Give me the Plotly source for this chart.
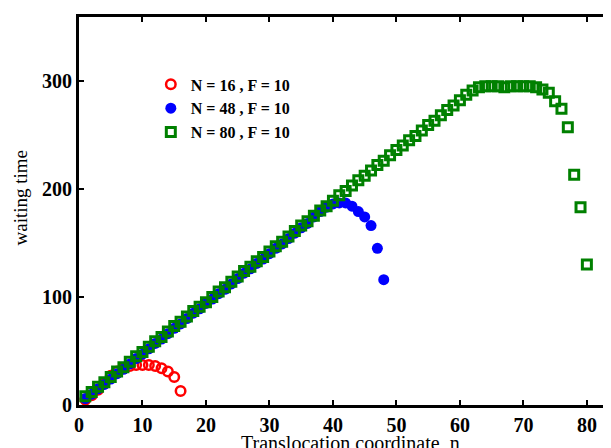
import plotly.graph_objects as go

n16 = list(range(1, 17))
t16 = [5, 9, 14, 20, 27, 31, 34, 36, 37, 37, 37, 36, 34, 31, 26, 13]

n48 = list(range(1, 49))
t48 = [6, 10, 15, 19, 24, 29, 33, 38, 43, 47,
       52, 57, 61, 66, 71, 75, 80, 85, 89, 94,
       98, 103, 107, 112, 117, 122, 126, 131, 135, 140,
       145, 149, 154, 159, 164, 168, 174, 179, 183, 186,
       187, 187, 184, 179, 174, 166, 145, 116]

n80 = list(range(1, 81))
t80 = [8, 12, 17, 21, 26, 31, 35, 40, 45, 49,
       54, 59, 63, 68, 73, 77, 82, 87, 91, 95,
       100, 105, 109, 114, 119, 124, 128, 133, 137, 142,
       147, 151, 156, 161, 166, 170, 175, 180, 184, 189,
       194, 198, 203, 208, 212, 217, 222, 226, 231, 236,
       240, 245, 249, 254, 259, 263, 268, 273, 277, 282,
       287, 291, 294, 295, 295, 295, 294, 295, 295, 295,
       295, 294, 292, 289, 281, 274, 257, 213, 183, 130]

labels = ["N = 16 , F = 10", "N = 48 , F = 10", "N = 80 , F = 10"]

serif = "Liberation Serif, Times New Roman, serif"

fig = go.Figure()
fig.add_trace(go.Scatter(x=n16, y=t16, mode="markers", name=labels[0],
                         marker=dict(symbol="circle-open", size=9.5, color="#ff0000",
                                     line=dict(width=2.5, color="#ff0000"))))
fig.add_trace(go.Scatter(x=n48, y=t48, mode="markers", name=labels[1],
                         marker=dict(symbol="circle", size=11, color="#0000ff")))
fig.add_trace(go.Scatter(x=n80, y=t80, mode="markers", name=labels[2],
                         marker=dict(symbol="square-open", size=9, color="#008000",
                                     line=dict(width=3, color="#008000"))))

fig.update_layout(
    width=603, height=440,
    margin=dict(l=71, r=0, t=9, b=43),
    paper_bgcolor="white", plot_bgcolor="white",
    showlegend=True,
    legend=dict(x=0.135, y=0.87, xanchor="left", yanchor="top",
                bgcolor="rgba(0,0,0,0)",
                font=dict(family=serif, size=16, color="black", weight="bold"),
                itemwidth=30, tracegroupgap=0),
    font=dict(family=serif, color="black"),
    xaxis=dict(range=[0, 83.8], tickvals=[0, 10, 20, 30, 40, 50, 60, 70, 80],
               showgrid=False, zeroline=False, showline=True, linewidth=3,
               linecolor="black", mirror="ticks", ticks="inside", ticklen=5,
               tickwidth=2, tickcolor="black", automargin=False,
               tickfont=dict(family=serif, size=20, color="black", weight="bold")),
    yaxis=dict(range=[0, 359], tickvals=[0, 100, 200, 300],
               showgrid=False, zeroline=False, showline=True, linewidth=3,
               linecolor="black", ticks="inside", ticklen=5, tickwidth=2,
               tickcolor="black", automargin=False,
               tickfont=dict(family=serif, size=20, color="black", weight="bold")),
    annotations=[
        dict(text="Translocation coordinate ,n", xref="paper", yref="paper",
             x=0.51, y=-0.098, xanchor="center", yanchor="middle", showarrow=False,
             font=dict(family=serif, size=20, color="black")),
        dict(text="waiting time", xref="paper", yref="paper",
             x=-0.11, y=0.536, xanchor="center", yanchor="middle", showarrow=False,
             textangle=-90, font=dict(family=serif, size=19, color="black")),
    ],
)

fig.write_html("out.html")
